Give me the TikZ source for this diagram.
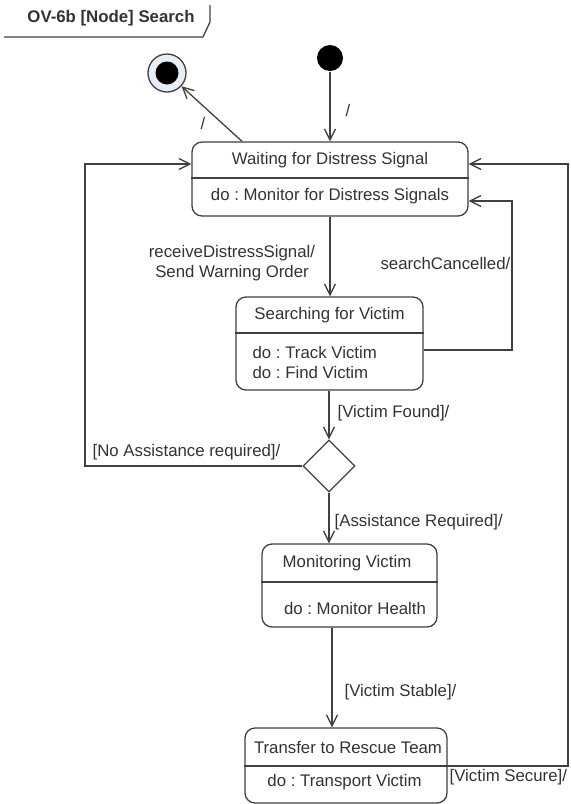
\documentclass[tikz,border=0pt]{standalone}
\usepackage{fontspec}
\setmainfont{Liberation Sans}
\usetikzlibrary{arrows.meta,shapes.geometric}
\definecolor{linegray}{HTML}{404040}
\definecolor{txtgray}{HTML}{333333}
\definecolor{endblue}{HTML}{E6EEF8}
\frenchspacing
\begin{document}
\begin{tikzpicture}[x=0.5pt, y=-0.5pt, line width=0.65pt, color=linegray, text=txtgray,
  >={Straight Barb[length=5.5pt,width=5.5pt]},
  every node/.style={font=\fontsize{8.4}{10}\selectfont},
  statebox/.style={draw, rounded corners=5pt, fill=white, inner sep=0pt},
  lbl/.style={inner sep=0pt}]
\useasboundingbox (0,0) rectangle (570,804);
% Rahmen-Titel
\node[font=\fontsize{8.4}{10}\selectfont\bfseries] (title) at (111,18) {OV-6b [Node] Search};
\draw (4,37) -- (203,37) -- (210,22) -- (210,5);
% Start und Ende
\node[circle, fill=black, minimum size=13pt, inner sep=0pt] (init) at (330,58) {};
\node[circle, draw, fill=endblue, minimum size=19pt, inner sep=0pt] (final) at (167,73) {};
\node[circle, fill=black, minimum size=11.5pt, inner sep=0pt] (finalIn) at (final) {};
% Zustaende
\node[statebox, minimum width=138pt, minimum height=37pt] (wait) at (330,179) {};
\draw (wait.west |- 0,178) -- (wait.east |- 0,178);
\node (waitT) at (330,160) {Waiting for Distress Signal};
\node (waitD) at (330,196) {do : Monitor for Distress Signals};

\node[statebox, minimum width=93.5pt, minimum height=46.5pt] (search) at (329.5,343.5) {};
\draw (search.west |- 0,333) -- (search.east |- 0,333);
\node (searchT) at (329.5,315) {Searching for Victim};
\node[anchor=west, align=left, inner sep=0pt] (searchD) at (252,362) {do : Track Victim\\do : Find Victim};

\node[diamond, draw, fill=white, minimum width=26pt, minimum height=26pt, inner sep=0pt] (choice) at (329,466) {};

\node[statebox, minimum width=87.5pt, minimum height=41.5pt] (monitor) at (349.5,585.5) {};
\draw (monitor.west |- 0,582) -- (monitor.east |- 0,582);
\node (monitorT) at (347,563) {Monitoring Victim};
\node (monitorD) at (355,608) {do : Monitor Health};

\node[statebox, minimum width=101pt, minimum height=37.5pt] (transfer) at (346,765.5) {};
\draw (transfer.west |- 0,766) -- (transfer.east |- 0,766);
\node (transferT) at (348,747) {Transfer to Rescue Team};
\node (transferD) at (344.5,782) {do : Transport Victim};
% Knickpunkte der Rueckwege
\coordinate (cancelR) at (512,0);
\coordinate (secureR) at (568,0);
\coordinate (noneL)   at (85,0);
% Uebergaenge
\draw[->] (init) -- (wait.north -| init);
\draw[->] (wait.north -| 242,0) -- (final);
\draw[->] (wait.south) -- (wait.south |- search.north);
\draw[->] (search.east |- 0,350) -- (cancelR |- 0,350) -- (cancelR |- 0,201) -- (wait.east |- 0,201);
\draw[->] (search.south -| choice) -- (choice.north);
\draw[->] (choice.west) -- (noneL |- choice.west) -- (noneL |- 0,164) -- (wait.west |- 0,164);
\draw[->] (choice.south) -- (choice.south |- monitor.north);
\draw[->] (monitor.south -| 332,0) -- (transfer.north -| 332,0);
\draw[->] (transfer.east |- 0,766) -- (secureR |- 0,766) -- (secureR |- 0,164) -- (wait.east |- 0,164);
% Beschriftungen
\node[lbl] (lInit)   at (348,110) {/};
\node[lbl] (lFinal)  at (203,123) {/};
\node[lbl, align=center] (lRecv) at (232,263) {receiveDistressSignal/\\Send Warning Order};
\node[lbl, anchor=east] (lCancel) at (511,263) {searchCancelled/};
\node[lbl, anchor=west] (lFound)  at (337,413) {[Victim Found]/};
\node[lbl, anchor=east] (lNone)   at (281,452) {[No Assistance required]/};
\node[lbl, anchor=west] (lAssist) at (334,522) {[Assistance Required]/};
\node[lbl, anchor=west] (lStable) at (344,692) {[Victim Stable]/};
\node[lbl, anchor=west] (lSecure) at (449,777) {[Victim Secure]/};
\end{tikzpicture}
\end{document}
